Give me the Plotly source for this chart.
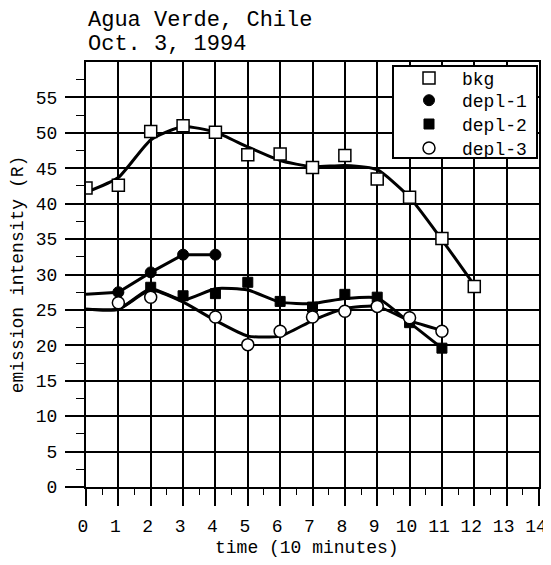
import plotly.graph_objects as go

# ---- data ----
time_ticks = list(range(0, 15))
y_ticks = list(range(0, 60, 5))

bkg_x = [0, 1, 2, 3, 4, 5, 6, 7, 8, 9, 10, 11, 12]
bkg_y = [42.2, 42.6, 50.2, 51.0, 50.1, 46.9, 47.0, 45.1, 46.8, 43.5, 40.9, 35.1, 28.3]
bkg_fit = [41.6, 43.7, 49.0, 50.9, 50.1, 48.0, 46.1, 45.2, 45.4, 44.8, 40.9, 34.9, 28.5]

depl1_x = [1, 2, 3, 4]
depl1_y = [27.5, 30.3, 32.8, 32.8]
depl1_line_x = [0, 1, 2, 3, 4]
depl1_line_y = [27.2, 27.5, 30.3, 32.8, 32.8]

depl2_x = [2, 3, 4, 5, 6, 7, 8, 9, 10, 11]
depl2_y = [28.2, 27.0, 27.3, 28.9, 26.2, 25.4, 27.2, 26.8, 23.2, 19.6]
depl2_fit_x = [0, 1, 2, 3, 4, 5, 6, 7, 8, 9, 10, 11]
depl2_fit = [25.1, 25.1, 28.0, 26.4, 28.0, 27.8, 26.1, 25.9, 26.6, 26.7, 23.2, 19.6]

depl3_x = [1, 2, 4, 5, 6, 7, 8, 9, 10, 11]
depl3_y = [26.0, 26.8, 24.0, 20.1, 22.0, 24.0, 24.8, 25.5, 23.9, 22.0]
depl3_fit_x = [0, 1, 2, 3, 4, 5, 6, 7, 8, 9, 10, 11]
depl3_fit = [25.1, 25.1, 27.8, 26.1, 23.5, 21.3, 21.3, 23.5, 25.2, 25.5, 23.5, 22.1]

names = ["bkg", "depl-1", "depl-2", "depl-3"]
title_lines = ["Agua Verde, Chile", "Oct. 3, 1994"]
x_title = "time (10 minutes)"
y_title = "emission intensity (R)"

FONT = "Liberation Mono, Courier New, monospace"
LW = 3
SM = 0.55

# page has an 8px body margin: the figure is sized/offset to compensate
PLOT_H = 425.0
def py(page_y):
    return (487.0 - page_y) / PLOT_H
def px(page_x):
    return (page_x - 86.0) / 453.0

fig = go.Figure()

# smooth curves (no legend)
fig.add_trace(go.Scatter(x=bkg_x, y=bkg_fit, mode="lines", line=dict(color="black", width=LW, shape="spline", smoothing=SM),
                         showlegend=False, hoverinfo="skip"))
fig.add_trace(go.Scatter(x=depl1_line_x, y=depl1_line_y, mode="lines", line=dict(color="black", width=LW),
                         showlegend=False, hoverinfo="skip"))
fig.add_trace(go.Scatter(x=depl2_fit_x, y=depl2_fit, mode="lines", line=dict(color="black", width=LW, shape="spline", smoothing=SM),
                         showlegend=False, hoverinfo="skip"))
fig.add_trace(go.Scatter(x=depl3_fit_x, y=depl3_fit, mode="lines", line=dict(color="black", width=LW, shape="spline", smoothing=SM),
                         showlegend=False, hoverinfo="skip"))

# markers (each in its own legend so the rows can sit exactly as in the original key)
fig.add_trace(go.Scatter(x=bkg_x, y=bkg_y, mode="markers", name=names[0], legend="legend",
                         marker=dict(symbol="square", size=12, color="white", line=dict(color="black", width=1.5))))
fig.add_trace(go.Scatter(x=depl1_x, y=depl1_y, mode="markers", name=names[1], legend="legend2",
                         marker=dict(symbol="circle", size=11, color="black", line=dict(color="black", width=1))))
fig.add_trace(go.Scatter(x=depl2_x, y=depl2_y, mode="markers", name=names[2], legend="legend3",
                         marker=dict(symbol="square", size=10, color="black", line=dict(color="black", width=1))))
fig.add_trace(go.Scatter(x=depl3_x, y=depl3_y, mode="markers", name=names[3], legend="legend4",
                         marker=dict(symbol="circle", size=12, color="white", line=dict(color="black", width=1.5))))

axis_common = dict(
    showgrid=True, gridcolor="black", gridwidth=1.5,
    showline=True, linecolor="black", linewidth=2, mirror=True,
    ticks="outside", tickcolor="black", tickwidth=1.5,
    zeroline=False, automargin=False, ticklabelstandoff=4,
    tickfont=dict(family=FONT, size=18, color="black"),
)

fig.update_xaxes(**axis_common, range=[0, 14], tickvals=time_ticks, ticklen=17, ticklabelshift=-3,
                 minor=dict(tickvals=[i + 0.5 for i in range(14)], ticks="outside", ticklen=6,
                            tickwidth=1.2, tickcolor="black", showgrid=False))
fig.update_yaxes(**axis_common, range=[0, 60], tickvals=y_ticks, ticklen=19,
                 minor=dict(tickvals=[i * 5 + 2.5 for i in range(12)], ticks="outside", ticklen=8,
                            tickwidth=1.2, tickcolor="black", showgrid=False),
                 title=dict(text=y_title, font=dict(family=FONT, size=18, color="black"), standoff=7))

legend_rows = [78.3, 100.5, 124.3, 148.3]
legend_common = dict(xanchor="left", yanchor="middle", bgcolor="rgba(0,0,0,0)", borderwidth=0,
                     font=dict(family=FONT, size=18, color="black"), itemwidth=56)

fig.update_layout(
    width=543, height=557,
    margin=dict(l=78, r=12, t=54, b=78),
    paper_bgcolor="white", plot_bgcolor="white",
    font=dict(family=FONT, color="black"),
    legend=dict(x=px(396), y=py(legend_rows[0]), **legend_common),
    legend2=dict(x=px(396), y=py(legend_rows[1]), **legend_common),
    legend3=dict(x=px(396), y=py(legend_rows[2]), **legend_common),
    legend4=dict(x=px(396), y=py(legend_rows[3]), **legend_common),
    shapes=[
        dict(type="rect", xref="paper", yref="paper", x0=px(393), x1=px(537), y0=py(158), y1=py(66),
             line=dict(color="black", width=2), fillcolor="white", layer="above"),
    ],
    annotations=[
        dict(text=title_lines[0], x=0, y=py(20.5), xref="paper", yref="paper",
             xanchor="left", yanchor="middle", showarrow=False, font=dict(family=FONT, size=22, color="black")),
        dict(text=title_lines[1], x=0, y=py(44), xref="paper", yref="paper",
             xanchor="left", yanchor="middle", showarrow=False, font=dict(family=FONT, size=22, color="black")),
        dict(text=x_title, x=px(307), y=py(548), xref="paper", yref="paper",
             xanchor="center", yanchor="middle", showarrow=False, font=dict(family=FONT, size=18, color="black")),
    ],
)

fig.write_html("out.html")
